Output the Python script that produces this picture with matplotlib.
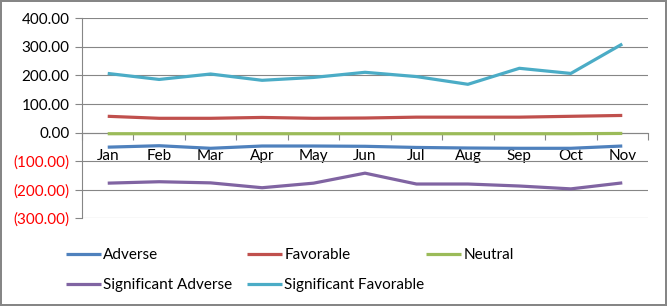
import matplotlib
matplotlib.use("Agg")
import matplotlib.pyplot as plt
from matplotlib.ticker import FuncFormatter, FixedLocator

plt.rcParams["font.family"] = ["Lato", "DejaVu Sans"]

# ---------------------------------------------------------------------------
# data
# ---------------------------------------------------------------------------
months = ["Jan", "Feb", "Mar", "Apr", "May", "Jun", "Jul", "Aug", "Sep", "Oct", "Nov"]
adverse = [-51, -46, -55, -47, -47, -48, -52, -54, -55, -55, -47]
favorable = [57, 50, 50, 53, 50, 51, 54, 54, 54, 57, 60]
neutral = [-4, -4, -4, -4, -4, -4, -4, -4, -4, -4, -3]
sig_adverse = [-177, -172, -176, -193, -177, -142, -180, -180, -187, -197, -176]
sig_favorable = [207, 186, 205, 183, 193, 211, 196, 169, 225, 207, 310]
y_ticks = [400, 300, 200, 100, 0, -100, -200, -300]

colors = {
    "Adverse": "#4F81BD",
    "Favorable": "#C0504D",
    "Neutral": "#9BBB59",
    "Significant Adverse": "#8064A2",
    "Significant Favorable": "#4BACC6",
}
grid_col = "#868686"
fs = 11

fig = plt.figure(figsize=(6.67, 3.06), dpi=100)
fig.patch.set_edgecolor(grid_col)
fig.patch.set_linewidth(1.5)
ax = fig.add_axes([82 / 667, 1 - 218.3 / 306, (648 - 82) / 667, 200 / 306])

x = list(range(len(months)))
series = [
    ("Adverse", adverse),
    ("Favorable", favorable),
    ("Neutral", neutral),
    ("Significant Adverse", sig_adverse),
    ("Significant Favorable", sig_favorable),
]
lines = {}
for name, vals in series:
    (ln,) = ax.plot(x, vals, color=colors[name], lw=2.3, solid_capstyle="butt",
                    label=name, zorder=3)
    lines[name] = ln

ax.set_xlim(-0.5, len(months) - 0.5)
ax.set_ylim(-300, 400)

# y axis
ax.set_yticks(y_ticks)
ax.yaxis.set_major_formatter(FuncFormatter(
    lambda v, p: f"{v:,.2f}" if v >= 0 else f"({abs(v):,.2f})"))
ax.tick_params(axis="y", length=5, width=0.8, color=grid_col, labelsize=fs, pad=4)
ax.grid(axis="y", color=grid_col, lw=0.8, zorder=1)

# x axis crossing at zero
ax.spines["bottom"].set_position(("data", 0))
ax.spines["bottom"].set_color(grid_col)
ax.spines["bottom"].set_linewidth(0.8)
ax.spines["left"].set_color(grid_col)
ax.spines["left"].set_linewidth(0.8)
ax.spines["top"].set_visible(False)
ax.spines["right"].set_visible(False)
ax.set_xticks(x)
ax.set_xticklabels(months)
ax.xaxis.set_minor_locator(FixedLocator([i - 0.5 for i in range(len(months) + 1)]))
ax.tick_params(axis="x", which="major", length=0, pad=12, labelsize=fs)
ax.tick_params(axis="x", which="minor", length=5, width=0.8, color=grid_col,
               direction="out")

fig.canvas.draw()
for lab in ax.get_yticklabels():
    lab.set_color("#FF0000" if lab.get_text().startswith("(") else "black")

# legend: three columns placed like the original
cols = [
    (["Adverse", "Significant Adverse"], 66),
    (["Favorable", "Significant Favorable"], 247),
    (["Neutral"], 426),
]
for names, xpix in cols:
    fig.legend([lines[n] for n in names], names,
               loc="upper left", bbox_to_anchor=(xpix / 667, 1 - 248 / 306),
               frameon=False, fontsize=fs, handlelength=2.3,
               handletextpad=0.15, labelspacing=1.05, borderaxespad=0,
               borderpad=0)

fig.savefig("out.png", dpi=100, edgecolor=fig.get_edgecolor())
